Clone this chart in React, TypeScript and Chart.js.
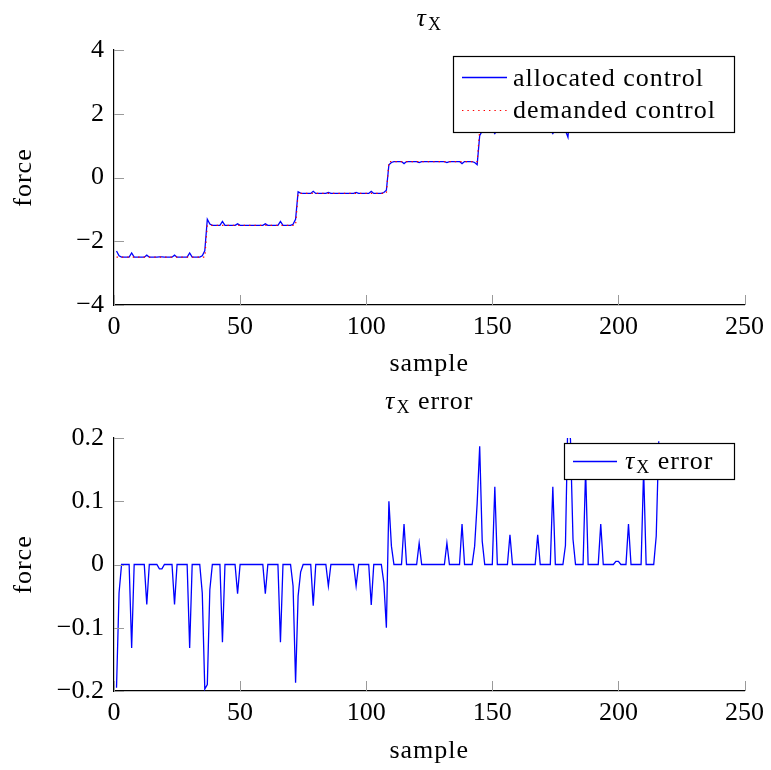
import React, { useEffect, useRef } from "react";
import { Chart, registerables } from "chart.js";

Chart.register(...registerables);

const FONT = "'Liberation Serif', 'Times New Roman', serif";
const FS = 26;

// demanded control: constant level from each step start sample
const stepStarts = [1, 37, 73, 109, 145, 181];
const stepLevels = [-2.5, -1.5, -0.5, 0.5, 1.5, 2.5];

// tau_X error (demanded - allocated), samples 1..216
const errorValues = [
  -0.195, -0.045, 0, 0, 0, 0, -0.132, 0, 0, 0, 0, 0,
  -0.063, 0, 0, 0, 0, -0.007, -0.007, 0, 0, 0, 0, -0.063,
  0, 0, 0, 0, 0, -0.132, 0, 0, 0, 0, -0.045, -0.197,
  -0.19, -0.04, 0, 0, 0, 0, -0.123, 0, 0, 0, 0, 0,
  -0.046, 0, 0, 0, 0, 0, 0, 0, 0, 0, 0, -0.046,
  0, 0, 0, 0, 0, -0.123, 0, 0, 0, 0, -0.034, -0.187,
  -0.05, -0.012, 0, 0, 0, 0, -0.065, 0, 0, 0, 0, 0,
  -0.034, 0, 0, 0, 0, 0, 0, 0, 0, 0, 0, -0.034,
  0, 0, 0, 0, 0, -0.064, 0, 0, 0, 0, -0.029, -0.1,
  0.1, 0.029, 0, 0, 0, 0, 0.064, 0, 0, 0, 0, 0,
  0.034, 0, 0, 0, 0, 0, 0, 0, 0, 0, 0, 0.034,
  0, 0, 0, 0, 0, 0.064, 0, 0, 0, 0, 0.029, 0.097,
  0.187, 0.037, 0, 0, 0, 0, 0.123, 0, 0, 0, 0, 0,
  0.047, 0, 0, 0, 0, 0, 0, 0, 0, 0, 0, 0.047,
  0, 0, 0, 0, 0, 0.123, 0, 0, 0, 0, 0.03, 0.24,
  0.197, 0.04, 0, 0, 0, 0, 0.15, 0, 0, 0, 0, 0,
  0.064, 0, 0, 0, 0, 0, 0.005, 0.005, 0, 0, 0, 0.064,
  0, 0, 0, 0, 0, 0.15, 0, 0, 0, 0, 0.045, 0.195,
];

const xTickValues = [0, 50, 100, 150, 200, 250];
const topYTickValues = [-4, -2, 0, 2, 4];
const bottomYTickValues = [-0.2, -0.1, 0, 0.1, 0.2];

const samples = errorValues.map((_, i) => i + 1);
const demanded = samples.map((s) => {
  let lvl = stepLevels[0];
  stepStarts.forEach((st, k) => {
    if (s >= st) lvl = stepLevels[k];
  });
  return lvl;
});
const allocated = demanded.map((d, i) => Math.round((d - errorValues[i]) * 1000) / 1000);

const fmt = (v: any) => {
  const r = Math.round(Number(v) * 10) / 10;
  return r < 0 ? "\u2212" + Math.abs(r) : String(r);
};

const SPACING = "1px";

function drawTauX(ctx: CanvasRenderingContext2D, x: number, baseline: number, suffix: string, measureOnly = false) {
  (ctx as any).letterSpacing = SPACING;
  ctx.font = `italic ${FS}px ${FONT}`;
  const w1 = ctx.measureText("\u03c4").width;
  ctx.font = `${Math.round(FS * 0.7)}px ${FONT}`;
  const w2 = ctx.measureText("X").width;
  ctx.font = `${FS}px ${FONT}`;
  const w3 = suffix ? ctx.measureText(suffix).width : 0;
  const total = w1 + 1 + w2 + w3;
  if (measureOnly) return total;
  ctx.save();
  (ctx as any).letterSpacing = SPACING;
  ctx.fillStyle = "#000";
  ctx.textAlign = "left";
  ctx.textBaseline = "alphabetic";
  ctx.font = `italic ${FS}px ${FONT}`;
  ctx.fillText("\u03c4", x, baseline);
  ctx.font = `${Math.round(FS * 0.7)}px ${FONT}`;
  ctx.fillText("X", x + w1 + 1, baseline + 4);
  if (suffix) {
    ctx.font = `${FS}px ${FONT}`;
    ctx.fillText(suffix, x + w1 + 1 + w2, baseline);
  }
  ctx.restore();
  return total;
}

type LegendItem = { kind: "text" | "tau"; text: string; color: string; dash: number[]; lineY: number; baseline: number };
type DecorCfg = {
  titleSuffix: string;
  titleBaseline: number;
  xLabelBaseline: number;
  yLabelX: number;
  box: [number, number, number, number];
  lineX: [number, number];
  textX: number;
  items: LegendItem[];
};

function makeDecor(cfg: DecorCfg) {
  return {
    id: "decor",
    afterDatasetsDraw(chart: any) {
      const ctx: CanvasRenderingContext2D = chart.ctx;
      const area = chart.chartArea;
      const xs = chart.scales.x;
      const ys = chart.scales.y;
      ctx.save();
      // inward tick marks
      ctx.strokeStyle = "#9a9a9a";
      ctx.lineWidth = 1;
      ctx.beginPath();
      xs.ticks.forEach((t: any) => {
        const px = Math.round(xs.getPixelForValue(t.value)) + 0.5;
        ctx.moveTo(px, area.bottom);
        ctx.lineTo(px, area.bottom - 10);
      });
      ys.ticks.forEach((t: any) => {
        const py = Math.round(ys.getPixelForValue(t.value)) + 0.5;
        ctx.moveTo(area.left, py);
        ctx.lineTo(area.left + 10, py);
      });
      ctx.stroke();

      // legend box
      const [bx, by, bw, bh] = cfg.box;
      ctx.fillStyle = "#fff";
      ctx.fillRect(bx, by, bw, bh);
      ctx.strokeStyle = "#000";
      ctx.lineWidth = 1.2;
      ctx.strokeRect(bx + 0.5, by + 0.5, bw - 1, bh - 1);
      cfg.items.forEach((it) => {
        ctx.save();
        ctx.strokeStyle = it.color;
        ctx.lineWidth = it.dash.length ? 1.2 : 1.3;
        ctx.setLineDash(it.dash);
        ctx.beginPath();
        ctx.moveTo(cfg.lineX[0], it.lineY);
        ctx.lineTo(cfg.lineX[1], it.lineY);
        ctx.stroke();
        ctx.restore();
        if (it.kind === "tau") {
          drawTauX(ctx, cfg.textX, it.baseline, it.text);
        } else {
          ctx.save();
          (ctx as any).letterSpacing = SPACING;
          ctx.fillStyle = "#000";
          ctx.font = `${FS}px ${FONT}`;
          ctx.textAlign = "left";
          ctx.textBaseline = "alphabetic";
          ctx.fillText(it.text, cfg.textX, it.baseline);
          ctx.restore();
        }
      });

      // title
      const cx = (area.left + area.right) / 2;
      const tw = drawTauX(ctx, 0, 0, cfg.titleSuffix, true) as number;
      drawTauX(ctx, cx - tw / 2, cfg.titleBaseline, cfg.titleSuffix);

      // axis labels
      ctx.save();
      (ctx as any).letterSpacing = SPACING;
      ctx.fillStyle = "#000";
      ctx.font = `${FS}px ${FONT}`;
      ctx.textAlign = "center";
      ctx.textBaseline = "alphabetic";
      ctx.fillText("sample", cx, cfg.xLabelBaseline);
      ctx.translate(cfg.yLabelX, (area.top + area.bottom) / 2);
      ctx.rotate(-Math.PI / 2);
      ctx.fillText("force", 0, 0);
      ctx.restore();
      ctx.restore();
    },
  };
}

function makeOptions(yMin: number, yMax: number, yTicks: number[], topPad: number, xAxisH: number) {
  return {
    responsive: false,
    animation: false as const,
    devicePixelRatio: 1,
    layout: { padding: { left: 0, right: 24, top: topPad, bottom: 0 } },
    plugins: { legend: { display: false }, tooltip: { enabled: false }, title: { display: false } },
    scales: {
      x: {
        type: "linear" as const,
        min: 0,
        max: 250,
        afterBuildTicks: (s: any) => {
          s.ticks = xTickValues.map((v) => ({ value: v }));
        },
        afterFit: (s: any) => {
          s.height = xAxisH;
        },
        grid: { display: false, drawTicks: false },
        border: { display: true, color: "#000", width: 1.2 },
        ticks: { font: { family: FONT, size: FS }, color: "#000", padding: 7, maxRotation: 0, autoSkip: false, callback: fmt },
      },
      y: {
        type: "linear" as const,
        min: yMin,
        max: yMax,
        afterBuildTicks: (s: any) => {
          s.ticks = yTicks.map((v) => ({ value: v }));
        },
        afterFit: (s: any) => {
          s.width = 114;
        },
        grid: { display: false, drawTicks: false },
        border: { display: true, color: "#000", width: 1.2 },
        ticks: { font: { family: FONT, size: FS }, color: "#000", padding: 10, autoSkip: false, callback: fmt },
      },
    },
  };
}

export default function App() {
  const topRef = useRef<HTMLCanvasElement>(null);
  const botRef = useRef<HTMLCanvasElement>(null);

  useEffect(() => {
    const top = new Chart(topRef.current as HTMLCanvasElement, {
      type: "line",
      data: {
        datasets: [
          {
            label: "demanded control",
            data: samples.map((s, i) => ({ x: s, y: demanded[i] })),
            borderColor: "#ff0000",
            borderWidth: 1.2,
            borderDash: [1.4, 4],
            pointRadius: 0,
            tension: 0,
            order: 0,
          },
          {
            label: "allocated control",
            data: samples.map((s, i) => ({ x: s, y: allocated[i] })),
            borderColor: "#0000ff",
            borderWidth: 1.3,
            pointRadius: 0,
            tension: 0,
            order: 1,
          },
        ],
      },
      options: makeOptions(-4, 4, topYTickValues, 50, 80) as any,
      plugins: [
        makeDecor({
          titleSuffix: "",
          titleBaseline: 26,
          xLabelBaseline: 371,
          yLabelX: 31,
          box: [453, 56, 282, 77],
          lineX: [462, 507],
          textX: 513,
          items: [
            { kind: "text", text: "allocated control", color: "#0000ff", dash: [], lineY: 77.5, baseline: 86 },
            { kind: "text", text: "demanded control", color: "#ff0000", dash: [1.4, 4], lineY: 110.5, baseline: 118 },
          ],
        }),
      ],
    });

    const bot = new Chart(botRef.current as HTMLCanvasElement, {
      type: "line",
      data: {
        datasets: [
          {
            label: "\u03c4X error",
            data: samples.map((s, i) => ({ x: s, y: errorValues[i] })),
            borderColor: "#0000ff",
            borderWidth: 1.3,
            pointRadius: 0,
            tension: 0,
          },
        ],
      },
      options: makeOptions(-0.2, 0.2, bottomYTickValues, 53, 79) as any,
      plugins: [
        makeDecor({
          titleSuffix: " error",
          titleBaseline: 24,
          xLabelBaseline: 373,
          yLabelX: 31,
          box: [564, 58, 171, 37],
          lineX: [573, 617],
          textX: 625,
          items: [{ kind: "tau", text: " error", color: "#0000ff", dash: [], lineY: 76.5, baseline: 84 }],
        }),
      ],
    });

    return () => {
      top.destroy();
      bot.destroy();
    };
  }, []);

  return (
    <div style={{ position: "absolute", left: 0, top: 0, width: 771, height: 770, background: "#fff" }}>
      <canvas ref={topRef} width={771} height={385} style={{ position: "absolute", left: 0, top: 0, width: 771, height: 385, display: "block" }} />
      <canvas ref={botRef} width={771} height={385} style={{ position: "absolute", left: 0, top: 385, width: 771, height: 385, display: "block" }} />
    </div>
  );
}
